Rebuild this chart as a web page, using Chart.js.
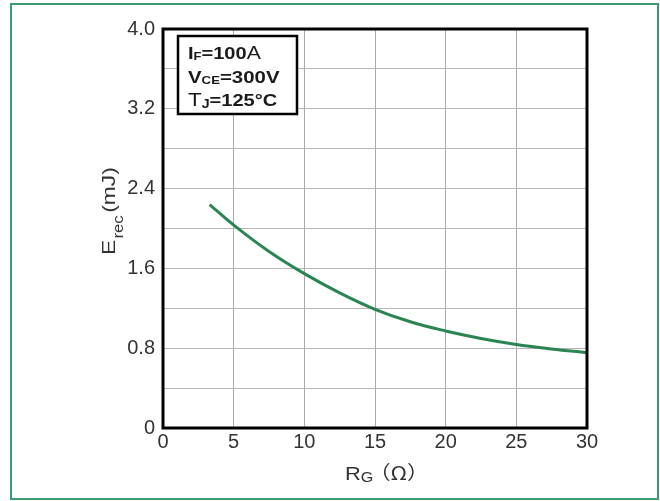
<!DOCTYPE html>
<html>
<head>
<meta charset="utf-8">
<style>
  body { margin: 0; background: #ffffff; }
  #wrap { position: relative; width: 660px; height: 501px; }
  #frame {
    position: absolute; left: 10px; top: 3px; width: 649px; height: 497px;
    box-sizing: border-box; border: 2px solid #3d9c72; pointer-events: none;
  }
  #c { width: 660px; height: 501px; display: block; }
</style>
<script src="https://cdn.jsdelivr.net/npm/chart.js@4/dist/chart.umd.min.js"></script>
</head>
<body>
<div id="wrap">
  <canvas id="c"></canvas>
  <div id="frame"></div>
</div>
<script>
// gate resistance (ohm) and reverse recovery energy (mJ)
const rg = [3.3, 5, 7.5, 10, 12.5, 15, 17.5, 20, 22.5, 25, 27.5, 30];
const erec = [2.24, 2.035, 1.77, 1.548, 1.355, 1.19, 1.065, 0.973, 0.898, 0.838, 0.793, 0.755];

const xMin = 0, xMax = 30, xStep = 5;
const yMin = 0, yMax = 4, yStep = 0.4;

const FONT = '"Liberation Sans", Arial, "Noto Sans CJK SC", sans-serif';

// text pieces drawn one after another (for subscripts), optionally rotated
function runsAt(ctx, x, y, runs, sx, angle) {
  ctx.save();
  ctx.translate(x, y);
  if (angle) ctx.rotate(angle);
  ctx.scale(sx, 1);
  let px = 0;
  for (const r of runs) {
    ctx.font = r.font;
    px += (r.dx || 0);
    ctx.fillText(r.t, px, r.dy || 0);
    px += ctx.measureText(r.t).width;
  }
  ctx.restore();
}

const extras = {
  id: 'extras',
  afterDraw(chart) {
    const ctx = chart.ctx;
    const a = chart.chartArea;
    ctx.save();
    // plot frame
    ctx.strokeStyle = '#000';
    ctx.lineWidth = 3;
    ctx.strokeRect(a.left, a.top, a.right - a.left, a.bottom - a.top);

    // condition box
    ctx.lineWidth = 2.5;
    ctx.fillStyle = '#fff';
    ctx.fillRect(178, 36, 119, 78);
    ctx.strokeRect(178, 36, 119, 78);
    ctx.fillStyle = '#1a1a1a';
    ctx.textBaseline = 'alphabetic';
    ctx.textAlign = 'left';
    const b17 = 'bold 17px ' + FONT, b11 = 'bold 11px ' + FONT, b12 = 'bold 12px ' + FONT;
    const r19 = '19px ' + FONT;
    runsAt(ctx, 188, 59, [
      {t: 'I', font: b17}, {t: 'F', font: b11, dy: 1}, {t: '=100', font: b17}, {t: 'A', font: '18px ' + FONT}
    ], 1.18);
    runsAt(ctx, 188, 83, [
      {t: 'V', font: b17}, {t: 'CE', font: b11, dy: 1}, {t: '=300V', font: b17}
    ], 1.2);
    runsAt(ctx, 188, 106, [
      {t: 'T', font: r19}, {t: 'J', font: b12, dy: 2}, {t: '=125°C', font: b17}
    ], 1.18);

    // axis titles
    ctx.fillStyle = '#333';
    runsAt(ctx, 115, 255, [
      {t: 'E', font: r19}, {t: 'rec', font: '14px ' + FONT, dy: 8, dx: 1}, {t: '(mJ)', font: r19, dx: 2}
    ], 1.2, -Math.PI / 2);
    runsAt(ctx, 345, 480, [
      {t: 'R', font: r19}, {t: 'G', font: '14px ' + FONT, dy: 2}, {t: '（Ω）', font: '19px "Noto Sans CJK SC", sans-serif', dx: -4}
    ], 1.15);
    ctx.restore();
  }
};

new Chart(document.getElementById('c'), {
  type: 'line',
  data: {
    datasets: [{
      data: rg.map((x, i) => ({x: x, y: erec[i]})),
      borderColor: '#2a8552',
      borderWidth: 3,
      pointRadius: 0,
      tension: 0.4,
      fill: false
    }]
  },
  options: {
    responsive: true,
    maintainAspectRatio: false,
    animation: false,
    layout: { padding: { left: 0, top: 29, right: 73, bottom: 0 } },
    plugins: { legend: { display: false }, tooltip: { enabled: false } },
    scales: {
      x: {
        type: 'linear',
        min: xMin, max: xMax,
        afterFit: (s) => { s.height = 73; },
        border: { display: false },
        grid: { color: '#aaaaaa', lineWidth: 1, drawTicks: false },
        ticks: {
          stepSize: xStep,
          padding: 2,
          maxRotation: 0,
          color: '#333',
          font: { family: FONT, size: 20 }
        }
      },
      y: {
        min: yMin, max: yMax,
        afterFit: (s) => { s.width = 163; },
        border: { display: false },
        grid: { color: '#b8b8b8', lineWidth: 1, drawTicks: false },
        ticks: {
          stepSize: yStep,
          padding: 8,
          color: '#333',
          font: { family: FONT, size: 20 },
          callback: (v, i) => (i % 2 !== 0 ? '' : (v === 0 ? '0' : v.toFixed(1)))
        }
      }
    }
  },
  plugins: [extras]
});
</script>
</body>
</html>
